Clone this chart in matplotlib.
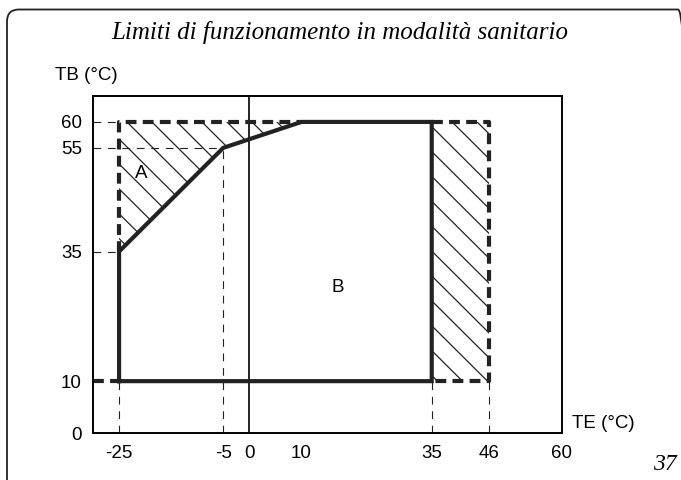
import numpy as np
import matplotlib.pyplot as plt
from matplotlib.patches import Polygon, FancyBboxPatch

plt.rcParams['axes.unicode_minus'] = False

# campo di funzionamento B (linea continua)
te_b = [-25, -25, -5, 10, 35, 35, -25]
tb_b = [10, 35, 55, 60, 60, 10, 10]

# limiti estesi (linea tratteggiata spessa)
te_lim_sx = [-25, -25, 10]
tb_lim_sx = [35, 60, 60]
te_lim_dx = [35, 46, 46, 35]
tb_lim_dx = [60, 60, 10, 10]

# zone tratteggiate
zona_a = [(-25, 35), (-25, 60), (10, 60), (-5, 55)]
zona_dx = [(35, 10), (35, 60), (46, 60), (46, 10)]

xticks = [-25, -5, 0, 10, 35, 46, 60]
yticks = [0, 10, 35, 55, 60]

fig = plt.figure(figsize=(6.81, 4.80), dpi=100)
ax = fig.add_axes([93/681, 47/480, 469/681, 337/480])
ax.set_xlim(-30, 60)
ax.set_ylim(0, 65)

for s in ax.spines.values():
    s.set_linewidth(1.4)
ax.axvline(0, color='#222222', lw=1.4)

ax.set_xticks(xticks)
ax.set_yticks(yticks)
ax.tick_params(axis='x', length=0, labelsize=13.5, pad=9)
ax.tick_params(axis='y', length=0, labelsize=13.5, pad=8)
for lab in ax.get_xticklabels() + ax.get_yticklabels():
    lab.set_family('Liberation Sans')

# linee di riferimento sottili
guida = dict(color='#222222', lw=0.8, ls=(0, (7, 6)))
ax.plot([-30, -25], [60, 60], **guida)
ax.plot([-30, -5], [55, 55], **guida)
ax.plot([-30, -25], [35, 35], **guida)
for x, ytop in [(-25, 10), (-5, 55), (35, 10), (46, 10)]:
    ax.plot([x, x], [0, ytop], **guida)

# tratteggio a 45 gradi ritagliato sulle zone
for pts in [zona_a, zona_dx]:
    poly = Polygon(pts, closed=True, fill=False, lw=0)
    ax.add_patch(poly)
    for c in np.arange(36.5 - 4.8 * 20, 130, 4.8):
        ln, = ax.plot([-40, 70], [c + 40, c - 70], color='#222222', lw=0.9)
        ln.set_clip_path(poly)

spessa = dict(color='#222222', lw=3.0, ls=(0, (2.6, 1.5)), dash_capstyle='butt')
ax.plot(te_lim_sx, tb_lim_sx, **spessa)
ax.plot(te_lim_dx, tb_lim_dx, **spessa)
ax.plot([-30, -25], [10, 10], **spessa)

ax.plot(te_b, tb_b, color='#222222', lw=3.0, solid_joinstyle='miter')

ax.text(-20.8, 50, 'A', fontsize=13.5, family='Liberation Sans', ha='center', va='center')
ax.text(17, 28, 'B', fontsize=13.5, family='Liberation Sans', ha='center', va='center')

fig.text(55/681, 1 - 75/480, 'TB (°C)', fontsize=13.5, family='Liberation Sans', va='center')
fig.text(572/681, 1 - 423/480, 'TE (°C)', fontsize=13.5, family='Liberation Sans', va='center')

fig.text(340/681, 1 - 32/480, 'Limiti di funzionamento in modalità sanitario',
         fontsize=18, family='Liberation Serif', style='italic', ha='center', va='center')
fig.text(665/681, 1 - 464/480, '37', fontsize=17, family='Liberation Serif',
         style='italic', ha='center', va='center')

# cornice arrotondata (in pixel, origine in basso a sinistra)
cornice = FancyBboxPatch((7, -30), 683, 500.5, boxstyle='round,pad=0,rounding_size=12',
                         transform=None, fill=False, lw=1.3, ec='#222222')
fig.patches.append(cornice)

fig.savefig('out.png', dpi=100)
